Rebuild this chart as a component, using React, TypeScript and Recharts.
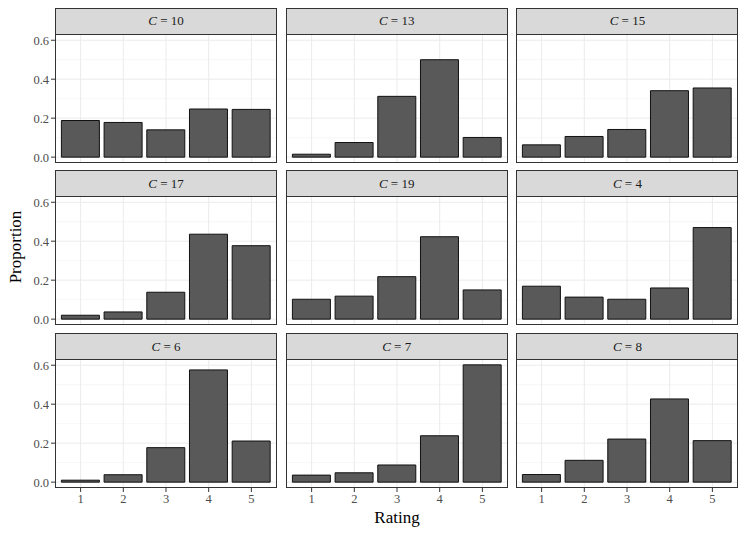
import React from 'react';
import { BarChart, Bar, XAxis, YAxis, CartesianGrid } from 'recharts';

// valores
const ratings = [1, 2, 3, 4, 5];
const panelC = [10, 13, 15, 17, 19, 4, 6, 7, 8];

const c10 = [0.188, 0.178, 0.14, 0.247, 0.245];
const c13 = [0.015, 0.075, 0.312, 0.5, 0.101];
const c15 = [0.063, 0.106, 0.142, 0.341, 0.355];
const c17 = [0.02, 0.037, 0.138, 0.436, 0.377];
const c19 = [0.102, 0.118, 0.218, 0.423, 0.15];
const c4 = [0.169, 0.113, 0.102, 0.16, 0.47];
const c6 = [0.01, 0.038, 0.177, 0.576, 0.211];
const c7 = [0.036, 0.048, 0.088, 0.238, 0.602];
const c8 = [0.039, 0.112, 0.221, 0.427, 0.213];

const proportions = [c10, c13, c15, c17, c19, c4, c6, c7, c8];

const yTicks = [0, 0.2, 0.4, 0.6];
const yMinor = [0.1, 0.3, 0.5];

const FONT = '"Liberation Serif", "DejaVu Serif", serif';
const PANEL_W = 222;
const PANEL_H = 129;
const STRIP_H = 26;
const LEFT0 = 55;
const TOP0 = 7.5;
const COL_STEP = 230.7;
const ROW_STEP = 162.8;
const Y_AXIS_W = 55;
const X_AXIS_H = 30;
const EXTRA_B = 12; // espacio para que no se corte "0.0"

const Panel: React.FC<{ idx: number }> = ({ idx }) => {
    const col = idx % 3;
    const row = Math.floor(idx / 3);
    const left = LEFT0 + col * COL_STEP;
    const top = TOP0 + row * ROW_STEP;
    const showY = col === 0;
    const showX = row === 2;
    const data = ratings.map((r, i) => ({ rating: r, p: proportions[idx][i] }));
    const bottomPad = showX ? 0 : EXTRA_B;

    return (
        <>
            <div
                style={{
                    position: 'absolute',
                    left,
                    top,
                    width: PANEL_W,
                    height: STRIP_H,
                    boxSizing: 'border-box',
                    background: '#D9D9D9',
                    border: '1px solid #333333',
                    borderBottom: 'none',
                    display: 'flex',
                    alignItems: 'center',
                    justifyContent: 'center',
                    fontFamily: FONT,
                    fontSize: 13,
                    color: '#1A1A1A'
                }}
            >
                <span style={{ fontStyle: 'italic' }}>C</span>
                <span>&nbsp;=&nbsp;{panelC[idx]}</span>
            </div>
            <div
                style={{
                    position: 'absolute',
                    left: left - (showY ? Y_AXIS_W : 0),
                    top: top + STRIP_H
                }}
            >
                <BarChart
                    width={PANEL_W + (showY ? Y_AXIS_W : 0)}
                    height={PANEL_H + (showX ? X_AXIS_H : bottomPad)}
                    data={data}
                    margin={{ top: 0, right: 0, bottom: bottomPad, left: 0 }}
                    barCategoryGap="5%"
                >
                    <CartesianGrid
                        horizontalValues={yMinor}
                        vertical={false}
                        stroke="#F2F2F2"
                        strokeWidth={0.6}
                    />
                    <CartesianGrid
                        horizontalValues={yTicks}
                        verticalValues={ratings}
                        stroke="#EBEBEB"
                        strokeWidth={1}
                    />
                    <XAxis
                        dataKey="rating"
                        type="number"
                        domain={[0.4, 5.6]}
                        ticks={ratings}
                        interval={0}
                        hide={!showX}
                        height={X_AXIS_H}
                        axisLine={false}
                        tickSize={4}
                        tickLine={{ stroke: '#333333' }}
                        tick={{ fill: '#4D4D4D', fontSize: 12.5, fontFamily: FONT }}
                    />
                    <YAxis
                        type="number"
                        domain={[-0.0301, 0.632]}
                        ticks={yTicks}
                        interval={0}
                        hide={!showY}
                        width={Y_AXIS_W}
                        axisLine={false}
                        tickSize={4}
                        tickLine={{ stroke: '#333333' }}
                        tick={{ fill: '#4D4D4D', fontSize: 12.5, fontFamily: FONT }}
                        tickFormatter={(v: number) => v.toFixed(1)}
                    />
                    <Bar
                        dataKey="p"
                        fill="#595959"
                        stroke="#111111"
                        strokeWidth={1}
                        isAnimationActive={false}
                    />
                </BarChart>
            </div>
            <div
                style={{
                    position: 'absolute',
                    left,
                    top: top + STRIP_H,
                    width: PANEL_W,
                    height: PANEL_H,
                    boxSizing: 'border-box',
                    border: '1px solid #333333',
                    pointerEvents: 'none'
                }}
            />
        </>
    );
};

export default function App() {
    return (
        <div
            style={{
                position: 'absolute',
                left: 0,
                top: 0,
                width: 747,
                height: 534,
                background: '#FFFFFF',
                fontFamily: FONT
            }}
        >
            {panelC.map((_, i) => (
                <Panel key={`panel-${i}`} idx={i} />
            ))}
            <div
                style={{
                    position: 'absolute',
                    left: 16,
                    top: 247,
                    transform: 'translate(-50%, -50%) rotate(-90deg)',
                    fontSize: 17,
                    color: '#000'
                }}
            >
                Proportion
            </div>
            <div
                style={{
                    position: 'absolute',
                    left: 397,
                    top: 518,
                    transform: 'translate(-50%, -50%)',
                    fontSize: 17,
                    color: '#000'
                }}
            >
                Rating
            </div>
        </div>
    );
}
